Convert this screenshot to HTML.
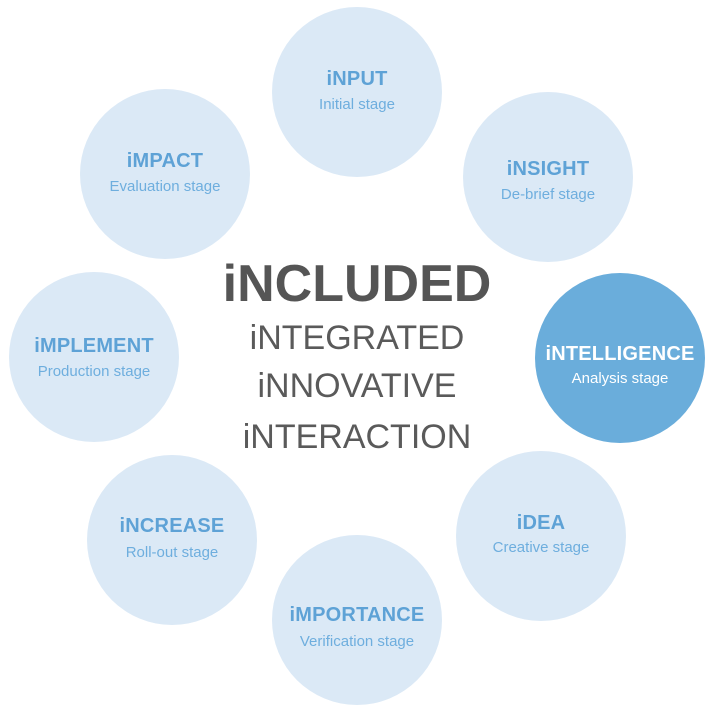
<!DOCTYPE html>
<html><head><meta charset="utf-8"><style>
html,body{margin:0;padding:0;background:#fff;}
body{width:714px;height:714px;position:relative;overflow:hidden;font-family:"Liberation Sans",sans-serif;}
.c{position:absolute;width:170px;height:170px;border-radius:50%;background:#dbe9f6;text-align:center;}
.c .t{position:absolute;left:-20px;right:-20px;font-weight:bold;font-size:20px;color:#5ea2d6;letter-spacing:0.2px;}
.c .s{position:absolute;left:-20px;right:-20px;font-size:15px;color:#6eaede;}
.d{background:#6aaddb;}
.d .t,.d .s{color:#fff;}
.m{position:absolute;left:0;width:714px;text-align:center;color:#555;}
</style></head><body>
<div class="c" style="left:272px;top:7px"><div class="t" style="top:61px">iNPUT</div><div class="s" style="top:89px">Initial stage</div></div>
<div class="c" style="left:463px;top:92px"><div class="t" style="top:66px">iNSIGHT</div><div class="s" style="top:94px">De-brief stage</div></div>
<div class="c d" style="left:535px;top:273px"><div class="t" style="top:70px">iNTELLIGENCE</div><div class="s" style="top:97px">Analysis stage</div></div>
<div class="c" style="left:456px;top:451px"><div class="t" style="top:61px">iDEA</div><div class="s" style="top:88px">Creative stage</div></div>
<div class="c" style="left:272px;top:535px"><div class="t" style="top:69px">iMPORTANCE</div><div class="s" style="top:98px">Verification stage</div></div>
<div class="c" style="left:87px;top:455px"><div class="t" style="top:60px">iNCREASE</div><div class="s" style="top:89px">Roll-out stage</div></div>
<div class="c" style="left:9px;top:272px"><div class="t" style="top:63px">iMPLEMENT</div><div class="s" style="top:91px">Production stage</div></div>
<div class="c" style="left:80px;top:89px"><div class="t" style="top:61px">iMPACT</div><div class="s" style="top:89px">Evaluation stage</div></div>
<div class="m" style="top:254px;font-size:52px;font-weight:bold;">iNCLUDED</div>
<div class="m" style="top:319px;font-size:34px;color:#5a5a5a;">iNTEGRATED</div>
<div class="m" style="top:367px;font-size:34px;color:#5a5a5a;">iNNOVATIVE</div>
<div class="m" style="top:418px;font-size:34px;color:#5a5a5a;">iNTERACTION</div>
</body></html>
